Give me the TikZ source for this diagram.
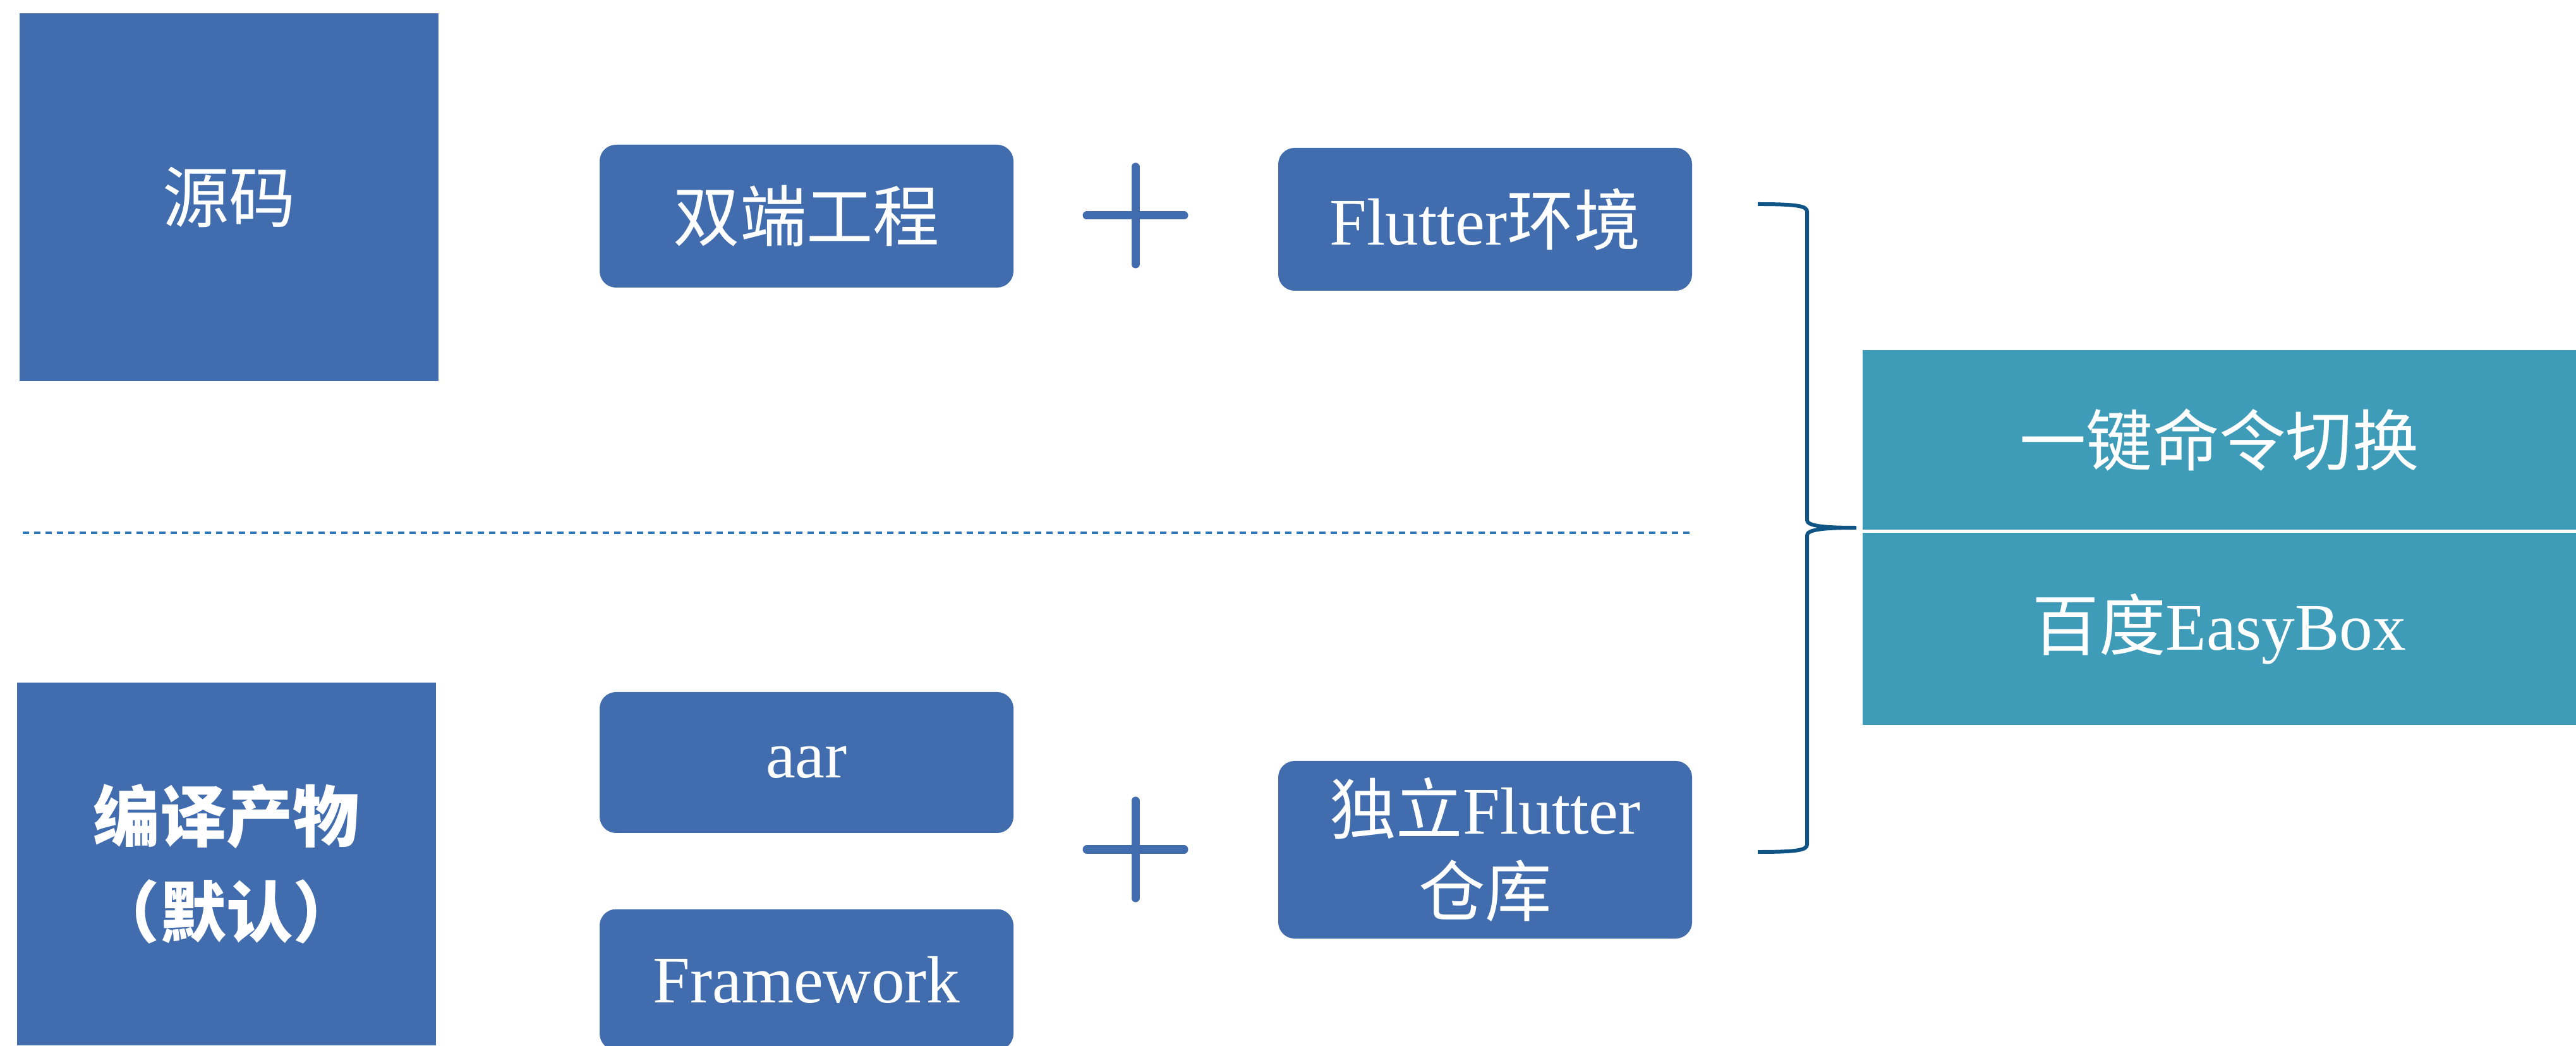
\documentclass[tikz,border=0pt]{standalone}
\usepackage{fontspec}
\setmainfont{Liberation Serif}
\newfontfamily\cjk{Noto Sans CJK SC}
\usetikzlibrary{positioning}
\definecolor{boxblue}{HTML}{416CAE}
\definecolor{boxteal}{HTML}{3F9CB9}
\definecolor{bracecol}{HTML}{0E5585}
\definecolor{linecol}{HTML}{2E75B6}
\tikzset{
	block/.style={fill=boxblue, text=white, minimum width=6.63cm, align=center, inner sep=0pt},
	part/.style={fill=boxblue, text=white, rounded corners=0.26cm, minimum width=6.55cm, minimum height=2.26cm, align=center, inner sep=0pt},
	tool/.style={fill=boxteal, text=white, minimum width=11.29cm, align=center, inner sep=0pt},
	plussign/.style={draw=boxblue, line width=3.7pt, line cap=round},
}
\begin{document}
\begin{tikzpicture}[font=\fontsize{30}{37}\selectfont]
			\useasboundingbox (0,0) rectangle (40.77,16.54);
			% Left column
			\node[block, minimum height=5.82cm] (src) at (3.625,13.42) {\cjk 源码};
			\node[block, minimum height=5.74cm, font=\fontsize{30}{43}\selectfont] (bin) at (3.585,2.87) {\cjk\bfseries 编译产物\\\cjk\bfseries （默认）};
			% Parts
			\node[part] (twin) at (12.765,13.12) {\cjk 双端工程};
			\node[part] (env) at (23.505,13.07) {Flutter{\cjk 环境}};
			\node[part, minimum height=2.23cm] (aar) at (12.765,4.475) {aar};
			\node[part, minimum height=2.23cm] (fw) at (12.765,1.04) {Framework};
			\node[part, minimum height=2.81cm] (repo) at (23.505,3.095) {{\cjk 独立}Flutter\\{\cjk 仓库}};
			% Plus signs
			\foreach \y in {13.13,3.10}{
				\draw[plussign] (17.2,\y) -- (18.74,\y);
				\draw[plussign] (17.97,\y+0.77) -- (17.97,\y-0.77);
			}
			% Separator
			\draw[linecol, line width=1.2pt, dash pattern=on 0.1cm off 0.08cm] (0.36,8.11) -- (26.78,8.11);
			% Right column
			\node[tool, minimum height=2.84cm] (cmd) at (35.125,9.58) {\cjk 一键命令切换};
			\node[tool, minimum height=3.04cm] (ebox) at (35.125,6.59) {{\cjk 百度}EasyBox};
			% Brace
			\coordinate (bt) at (27.82,13.31);
			\coordinate (bb) at (27.82,3.06);
			\coordinate (tip) at (29.38,8.19);
			\draw[bracecol, line width=1.7pt] (bt) .. controls (28.45,13.31) and (28.6,13.28) .. (28.6,13.19)
				-- (28.6,8.31) .. controls (28.6,8.22) and (28.85,8.19) .. (tip)
				.. controls (28.85,8.19) and (28.6,8.16) .. (28.6,8.07)
				-- (28.6,3.18) .. controls (28.6,3.09) and (28.45,3.06) .. (bb);
		\end{tikzpicture}
\end{document}
